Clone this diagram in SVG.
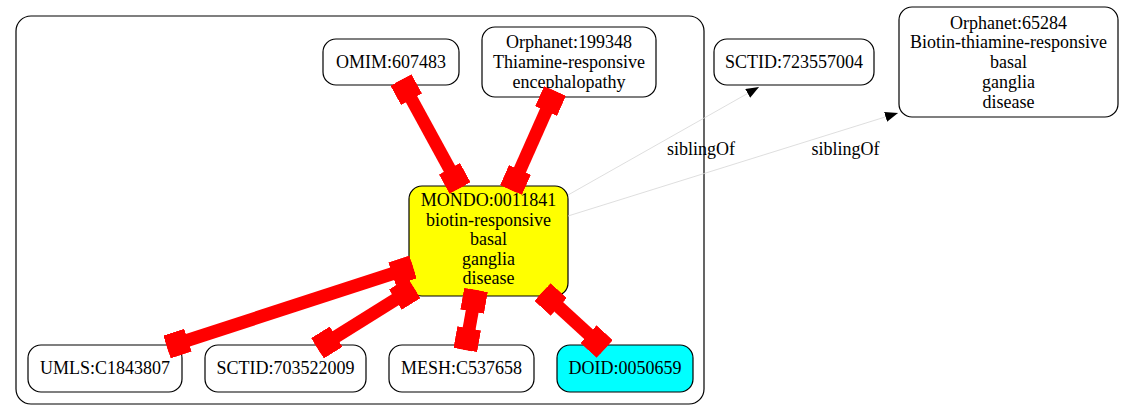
<svg xmlns="http://www.w3.org/2000/svg" width="1125" height="420" viewBox="0 0 1125 420">
<style>
text{font-family:"Liberation Serif","Times New Roman",serif;font-size:18px;fill:#000;text-anchor:middle}
.n{fill:#fff;stroke:#000;stroke-width:1.2}
.red{stroke:#f00;stroke-width:13;fill:none;marker-start:url(#box);marker-end:url(#box)}
.sib{stroke:#d6d6d6;stroke-width:0.8;fill:none;marker-end:url(#arr)}
</style>
<defs>
<marker id="box" markerUnits="userSpaceOnUse" orient="auto-start-reverse" viewBox="-22 -12 22 24" markerWidth="22" markerHeight="24" refX="0" refY="0">
<rect x="-22" y="-12" width="22" height="24" fill="#f00"/>
</marker>
<marker id="arr" markerUnits="userSpaceOnUse" orient="auto" viewBox="-13 -5 13 10" markerWidth="13" markerHeight="10" refX="0" refY="0">
<path d="M0,0 L-13,-5 L-13,5 Z" fill="#000"/>
</marker>
</defs>
<rect width="1125" height="420" fill="#fff"/>
<g id="cluster">
<rect x="16" y="16" width="688" height="388" rx="15" fill="none" stroke="#000" stroke-width="1.2"/>
</g>
<g id="OMIM_607483"><rect class="n" x="323" y="39" width="136" height="46" rx="13"/><text x="391" y="68">OMIM:607483</text></g>
<g id="Orphanet_199348"><rect class="n" x="482" y="27" width="174" height="70" rx="13"/><text x="569" y="48">Orphanet:199348</text><text x="569" y="68">Thiamine-responsive</text><text x="569" y="88">encephalopathy</text></g>
<g id="SCTID_723557004"><rect class="n" x="714" y="39" width="160" height="46" rx="13"/><text x="794" y="68">SCTID:723557004</text></g>
<g id="Orphanet_65284"><rect class="n" x="899" y="7" width="219" height="110" rx="13"/><text x="1008.5" y="28.5">Orphanet:65284</text><text x="1008.5" y="48.2">Biotin-thiamine-responsive</text><text x="1008.5" y="68">basal</text><text x="1008.5" y="87.7">ganglia</text><text x="1008.5" y="107.5">disease</text></g>
<g id="MONDO_0011841"><rect class="n" x="409" y="186" width="159" height="110" rx="13" fill="#ff0" style="fill:#ff0"/><text x="488.5" y="206">MONDO:0011841</text><text x="488.5" y="225.5">biotin-responsive</text><text x="488.5" y="245">basal</text><text x="488.5" y="264.5">ganglia</text><text x="488.5" y="284">disease</text></g>
<g id="UMLS_C1843807"><rect class="n" x="28" y="345" width="154" height="47" rx="13"/><text x="105" y="374">UMLS:C1843807</text></g>
<g id="SCTID_703522009"><rect class="n" x="205" y="345" width="161" height="47" rx="13"/><text x="285.5" y="374">SCTID:703522009</text></g>
<g id="MESH_C537658"><rect class="n" x="389" y="345" width="145" height="47" rx="13"/><text x="461.5" y="374">MESH:C537658</text></g>
<g id="DOID_0050659"><rect class="n" x="557" y="345" width="136" height="47" rx="13" style="fill:#0ff"/><text x="625" y="374">DOID:0050659</text></g>
<g id="connectors">
<line class="red" x1="401" y1="80" x2="460" y2="188"/>
<line class="red" x1="555" y1="91" x2="511" y2="190"/>
<line class="red" x1="167" y1="347" x2="413" y2="267"/>
<line class="red" x1="317.5" y1="348.3" x2="414" y2="288"/>
<line class="red" x1="465.3" y1="350" x2="476" y2="290"/>
<line class="red" x1="604.7" y1="349" x2="542.5" y2="292"/>
<line class="sib" x1="568" y1="195" x2="759" y2="87"/>
<line class="sib" x1="568" y1="216" x2="898" y2="113"/>
<text x="701" y="155">siblingOf</text>
<text x="845.5" y="155">siblingOf</text>
</g>
</svg>
